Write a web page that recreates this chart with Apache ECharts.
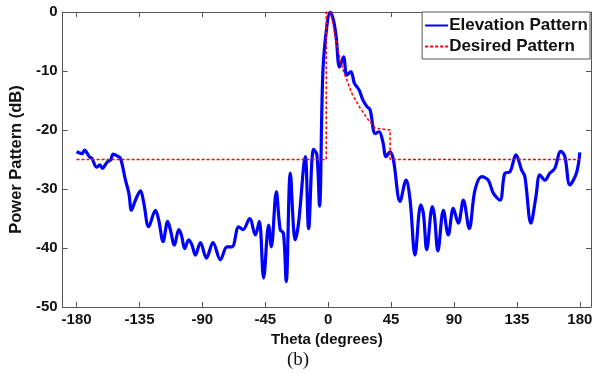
<!DOCTYPE html>
<html>
<head>
<meta charset="utf-8">
<script src="https://cdn.jsdelivr.net/npm/echarts@6/dist/echarts.min.js"></script>
<style>html,body{margin:0;padding:0;background:#fff}#c{width:596px;height:373px}</style>
</head>
<body>
<div id="c"></div>
<script>
// ---- data ----
const xTicks = [-180, -135, -90, -45, 0, 45, 90, 135, 180];
const yTicks = [-50, -40, -30, -20, -10, 0];

const elevTheta = [-180,-176,-174.3,-171,-169,-165.7,-163.3,-161.6,-158,-155.7,-153.8,-150.9,-148.6,-145,-142.6,-140.7,-137.9,-134.3,-131.9,-128.4,-123.6,-121.2,-118.1,-114.8,-112.9,-110,-106.9,-105,-102.6,-99.8,-97.4,-95,-91.4,-87.1,-82.4,-77.1,-72.4,-68.8,-64,-60.9,-56.2,-52.1,-49.3,-46.2,-42.6,-40.7,-37.1,-34.3,-32,-30,-27.1,-23.6,-21.2,-16.4,-14,-10.5,-8.1,-6.2,-3.8,-1,1.4,3.8,5.7,8.1,11,13.3,16.2,18.8,22.1,24.8,27.6,30,33.6,36.4,39.1,41.4,44.3,46.7,51.4,55.7,58.6,62.1,66.2,68.1,70.5,74.5,76,78.5,82.4,85.9,89.5,93.1,96.7,100.9,105,109.8,114.5,118.1,122.9,126.4,130,134.3,138.4,140.7,145,148.6,151.4,155,158.6,162.1,166.4,169.3,172.9,177.6,180];
const elevDb = [-23.7,-24.0,-23.4,-24.5,-24.8,-26.3,-25.9,-26.5,-25.4,-25.1,-24.1,-24.4,-24.8,-28.5,-30.7,-33.6,-31.9,-30.3,-32.4,-36.4,-33.6,-35.3,-38.9,-35.5,-36.9,-39.5,-36.9,-37.8,-40.1,-38.6,-39.5,-41.2,-39.1,-41.7,-39.1,-42.0,-39.8,-39.8,-36.4,-36.9,-35.0,-37.8,-35.5,-45.1,-36.1,-39.8,-30.5,-36.9,-37.5,-45.7,-27.3,-38.6,-35.8,-24.5,-36.7,-23.3,-24.2,-32.9,-10.1,-2.5,0,-1.4,-4.2,-9.3,-7.6,-10.7,-10.1,-12.1,-13.2,-14.9,-16.0,-16.6,-20.6,-20.3,-22.0,-24.5,-23.7,-25.1,-32.1,-28.5,-31.9,-41.2,-32.7,-34.1,-40.3,-33.0,-34.5,-40.5,-33.6,-37.8,-33.3,-35.8,-31.9,-36.7,-30.2,-27.9,-28.5,-30.7,-31.9,-27.3,-27.1,-24.2,-26.8,-27.9,-35.8,-31.3,-27.6,-28.5,-27.3,-26.5,-23.6,-24.5,-29.3,-27.3,-23.8];

const desiredTheta = [-180,-1.4,-1.4,1.5,3,5,8.6,11,16.9,22.9,28.8,33.6,35,44.3,44.3,180];
const desiredDb    = [-25,-25,0,0,-1.5,-4.2,-8.1,-10.1,-13.8,-16.3,-18.3,-19.7,-20,-20,-25,-25];

// ---- chart ----
const elev = elevTheta.map((t, i) => [t, elevDb[i]]);
const desired = desiredTheta.map((t, i) => [t, desiredDb[i]]);
const font = 'Liberation Sans';
const axisCol = '#555';
const xMin = -190, xMax = 188;

function xAx(pos, show) {
  return {
    type: 'value', position: pos, min: xMin, max: xMax,
    axisLine: {onZero: false, lineStyle: {color: axisCol, width: 1}},
    axisTick: {inside: true, length: 5, customValues: xTicks, lineStyle: {color: axisCol}},
    axisLabel: {show: show, customValues: xTicks, color: '#111', fontFamily: font, fontWeight: 'bold', fontSize: 15, margin: 5},
    splitLine: {show: false}
  };
}
function yAx(pos, show) {
  return {
    type: 'value', position: pos, min: -50, max: 0, interval: 10,
    axisLine: {onZero: false, lineStyle: {color: axisCol, width: 1}},
    axisTick: {inside: true, length: 5, lineStyle: {color: axisCol}},
    axisLabel: {show: show, color: '#111', fontFamily: font, fontWeight: 'bold', fontSize: 15, margin: 5},
    splitLine: {show: false}
  };
}
const xBottom = xAx('bottom', true);
xBottom.name = 'Theta (degrees)';
xBottom.nameLocation = 'middle';
xBottom.nameGap = 24;
xBottom.nameTextStyle = {color: '#111', fontFamily: font, fontWeight: 'bold', fontSize: 15, verticalAlign: 'top'};
const yLeft = yAx('left', true);
yLeft.name = 'Power Pattern (dB)';
yLeft.nameLocation = 'middle';
yLeft.nameGap = 35;
yLeft.nameTextStyle = {color: '#111', fontFamily: font, fontWeight: 'bold', fontSize: 16.5};

const chart = echarts.init(document.getElementById('c'), null, {renderer: 'canvas'});
chart.setOption({
  animation: false,
  backgroundColor: '#fff',
  grid: {left: 62, top: 12, width: 529, height: 295, containLabel: false},
  xAxis: [xBottom, xAx('top', false)],
  yAxis: [yLeft, yAx('right', false)],
  legend: {
    data: ['Elevation Pattern', 'Desired Pattern'],
    orient: 'vertical', right: 6, top: 12,
    backgroundColor: '#fff', borderColor: '#555', borderWidth: 1,
    padding: [5, 2, 4, 2], itemGap: 4, itemWidth: 23, itemHeight: 16,
    itemStyle: {opacity: 0},
    textStyle: {color: '#111', fontFamily: font, fontWeight: 'bold', fontSize: 17, padding: [0, 0, 0, -4]}
  },
  graphic: [{
    type: 'text', left: 'center', top: 351,
    style: {text: '(b)', font: '19px "Liberation Serif"', fill: '#111'}
  }],
  series: [{
    name: 'Elevation Pattern', type: 'line', data: elev, xAxisIndex: 0, yAxisIndex: 0,
    symbol: 'none', smooth: 0.35, lineStyle: {color: '#0000ff', width: 3.2}, itemStyle: {color: '#0000ff'}, z: 3
  }, {
    name: 'Desired Pattern', type: 'line', data: desired, xAxisIndex: 0, yAxisIndex: 0,
    symbol: 'none', lineStyle: {color: '#ff0000', width: 1.5, type: [3, 2]}, itemStyle: {color: '#ff0000'}, z: 4
  }]
});
</script>
</body>
</html>
